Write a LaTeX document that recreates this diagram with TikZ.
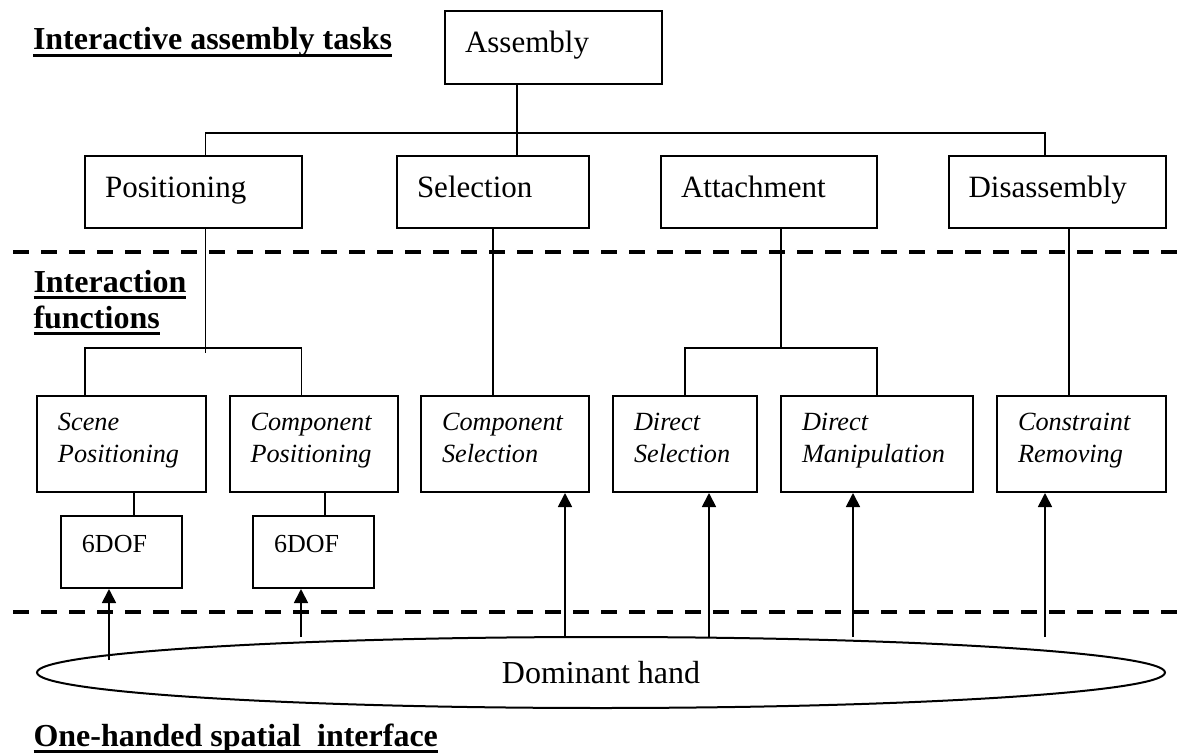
\documentclass[tikz,border=0pt]{standalone}
\usepackage{fontspec}
\setmainfont{Liberation Serif}
\usetikzlibrary{arrows.meta,shapes.geometric}

% bold underlined layer titles
\newcommand{\ulhead}[1]{\setbox0\hbox{\bfseries #1}\rlap{\raisebox{-2.6pt}{\rule{\wd0}{1.2pt}}}\box0}
% two line box text with fixed top and bottom
\newcommand{\twolines}[2]{\rule{0pt}{9pt}#1\\#2\rule[-7.4pt]{0pt}{7.4pt}}

\begin{document}
\begin{tikzpicture}[x=0.4pt, y=-0.4pt,
  taskbox/.style={draw, line width=0.8pt, minimum height=28.8pt, inner xsep=8pt,
                  text height=9pt, text depth=5pt, align=left, font=\fontsize{12.4}{15}\selectfont},
  funcbox/.style={draw, line width=0.8pt, minimum height=38.4pt, inner xsep=8.4pt,
                  align=left, font=\fontsize{10.5}{12.8}\selectfont\itshape},
  dofbox/.style={draw, line width=0.8pt, minimum height=28.8pt, inner xsep=8.4pt,
                 text height=7pt, text depth=7pt, align=left, font=\fontsize{10.4}{12}\selectfont},
  tie/.style={line width=0.7pt},
  lift/.style={line width=0.7pt, -{Triangle[length=5.6pt,width=5.6pt]}},
  layerline/.style={line width=1.6pt, dash pattern=on 6.4pt off 4.8pt},
  heading/.style={anchor=base west, inner sep=0pt, font=\fontsize{12.8}{15}\selectfont}]
\useasboundingbox (0,0) rectangle (1181,753);

% layer borders
\draw[layerline] (13,252) -- (1181,252);
\draw[layerline] (13,612) -- (1181,612);

% Heading
\node[heading] (ttask)  at (32.5,50) {\ulhead{Interactive assembly tasks}};
\node[heading] (tfunc)  at (33,292)  {\ulhead{Interaction}};
\node[heading] (tfunc2) at (33,328)  {\ulhead{functions}};
\node[heading] (thand)  at (33,746)  {\ulhead{One-handed spatial\ \ interface}};

% tasks
\node[taskbox, text width=70.6pt] (asm) at (553.25,47.5) {Assembly};
\node[taskbox, text width=70.6pt] (pos) at (193.3,192)   {Positioning};
\node[taskbox, text width=60.8pt] (sel) at (493,192)     {Selection};
\node[taskbox, text width=70.4pt] (att) at (769,192)     {Attachment};
\node[taskbox, text width=71pt]   (dis) at (1057.25,192) {Disassembly};

% functions
\node[funcbox, text width=50.6pt] (scene)   at (121.25,444) {\twolines{Scene}{Positioning}};
\node[funcbox, text width=50.6pt] (comppos) at (313.8,444)  {\twolines{Component}{Positioning}};
\node[funcbox, text width=50.4pt] (compsel) at (505,444)    {\twolines{Component}{Selection}};
\node[funcbox, text width=40.8pt] (dirsel)  at (685,444)    {\twolines{Direct}{Selection}};
\node[funcbox, text width=60pt]   (dirman)  at (877,444)    {\twolines{Direct}{Manipulation}};
\node[funcbox, text width=50.8pt] (conrem)  at (1081.5,444) {\twolines{Constraint}{Removing}};

\node[dofbox, text width=31.6pt] (dof1) at (121.5,552) {6DOF};
\node[dofbox, text width=31.6pt] (dof2) at (313.5,552) {6DOF};

% interface
\node[draw, ellipse, line width=0.8pt, minimum width=451.2pt, minimum height=28.4pt, inner sep=0pt,
      text height=8.4pt, text depth=0pt, font=\fontsize{12.8}{15}\selectfont] (hand) at (601,672.5) {Dominant hand};

%------------------------------------------------------
% task tree
\coordinate (busL) at (205.5,133);
\coordinate (busM) at (517,133);
\coordinate (busR) at (1045,133);
\draw[tie] (asm.south -| busM) -- (busM |- sel.north);
\draw[tie] (pos.north -| busL) -- (busL) -- (busR) -- (busR |- dis.north);

% tasks to functions
\coordinate (posL) at (85,348);
\coordinate (posM) at (205.5,353);
\coordinate (posR) at (301.6,348);
\draw[tie] (pos.south -| posM) -- (posM);
\draw[tie] (scene.north -| posL) -- (posL) -- (posR) -- (comppos.north -| posR);

\draw[tie] (sel.south) -- (sel.south |- compsel.north);

\coordinate (attM) at (781,348);
\draw[tie] (att.south -| attM) -- (attM);
\draw[tie] (dirsel.north) |- (attM) -| (dirman.north);

\coordinate (disM) at (1069,300);
\draw[tie] (dis.south -| disM) -- (conrem.north -| disM);

% 6DOF
\coordinate (sceneX) at (134,500);
\coordinate (compX)  at (325,500);
\draw[tie] (scene.south -| sceneX)  -- (dof1.north -| sceneX);
\draw[tie] (comppos.south -| compX) -- (dof2.north -| compX);

% hand input
\coordinate (f1) at (109,660);
\coordinate (f2) at (301,637);
\coordinate (f3) at (565,637);
\coordinate (f4) at (709,637);
\coordinate (f5) at (853,637);
\coordinate (f6) at (1045,637);
\draw[lift] (f1) -- (f1 |- dof1.south);
\draw[lift] (f2) -- (f2 |- dof2.south);
\draw[lift] (f3) -- (f3 |- compsel.south);
\draw[lift] (f4) -- (f4 |- dirsel.south);
\draw[lift] (f5) -- (f5 |- dirman.south);
\draw[lift] (f6) -- (f6 |- conrem.south);
\end{tikzpicture}
\end{document}
